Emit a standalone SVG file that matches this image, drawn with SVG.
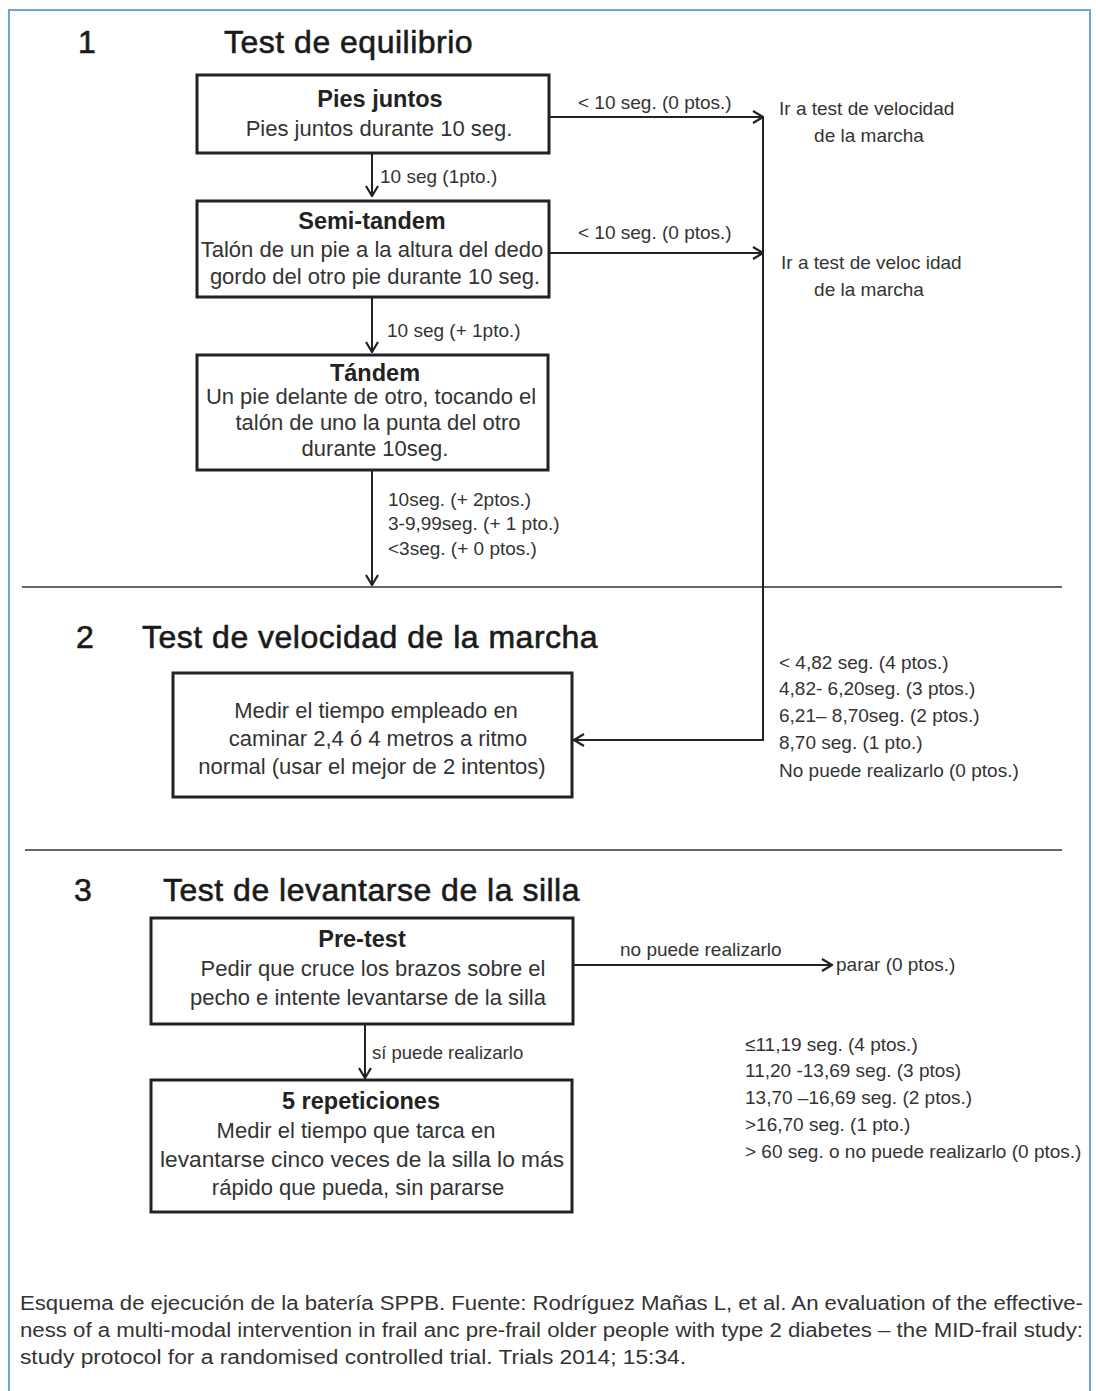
<svg xmlns="http://www.w3.org/2000/svg" width="1096" height="1391" viewBox="0 0 1096 1391">
<defs>
<style>
text{font-family:"Liberation Sans",Arial,sans-serif;fill:#333}
.sec{font-size:32px;fill:#1a1a1a;stroke:#1a1a1a;stroke-width:0.6;letter-spacing:0.5px}
.ttl{font-size:23.5px;font-weight:bold;fill:#222;text-anchor:middle}
.body{font-size:22px;text-anchor:middle}
.lbl{font-size:19px}
.sm{font-size:18.5px}
.cap{font-size:20px}
.box{fill:#fff;stroke:#222;stroke-width:3}
.con{fill:none;stroke:#222;stroke-width:2}
.sep{stroke:#333;stroke-width:1.5}
</style>
<marker id="arr" viewBox="0 0 12 14" refX="11" refY="7" markerWidth="12" markerHeight="14" markerUnits="userSpaceOnUse" orient="auto">
<path d="M1,1 L11,7 L1,13" fill="none" stroke="#222" stroke-width="2.2"/>
</marker>
</defs>
<rect x="0" y="0" width="1096" height="1391" fill="#fff"/>
<path d="M9,1391 L9,10 L1090,10 L1090,1391" fill="none" stroke="#6fa6cf" stroke-width="2"/>

<!-- section separators -->
<line class="sep" x1="22" y1="587" x2="1062" y2="587"/>
<line class="sep" x1="25" y1="850" x2="1062" y2="850"/>

<!-- section titles -->
<g id="sec1"><text class="sec" x="78" y="53">1</text><text class="sec" x="224" y="53">Test de equilibrio</text></g>
<g id="sec2"><text class="sec" x="76" y="648">2</text><text class="sec" x="142" y="648">Test de velocidad de la marcha</text></g>
<g id="sec3"><text class="sec" x="74" y="901">3</text><text class="sec" x="163" y="901">Test de levantarse de la silla</text></g>

<g id="connectors">
<line class="con" x1="372" y1="153" x2="372" y2="196" marker-end="url(#arr)"/>
<line class="con" x1="372" y1="297" x2="372" y2="352" marker-end="url(#arr)"/>
<line class="con" x1="372" y1="470" x2="372" y2="585" marker-end="url(#arr)"/>
<line class="con" x1="549" y1="117" x2="763" y2="117" marker-end="url(#arr)"/>
<line class="con" x1="549" y1="253" x2="763" y2="253" marker-end="url(#arr)"/>
<polyline class="con" points="763,117 763,740 574,740" marker-end="url(#arr)"/>
<line class="con" x1="573" y1="965" x2="832" y2="965" marker-end="url(#arr)"/>
<line class="con" x1="365" y1="1024" x2="365" y2="1078" marker-end="url(#arr)"/>
<text class="lbl" x="380" y="183">10 seg (1pto.)</text>
<text class="lbl" x="387" y="337">10 seg (+ 1pto.)</text>
<text class="lbl" x="388" y="506">10seg. (+ 2ptos.)</text>
<text class="lbl" x="388" y="530">3-9,99seg. (+ 1 pto.)</text>
<text class="lbl" x="388" y="555">&lt;3seg. (+ 0 ptos.)</text>
<text class="lbl" x="578" y="109">&lt; 10 seg. (0 ptos.)</text>
<text class="lbl" x="578" y="239">&lt; 10 seg. (0 ptos.)</text>
<text class="lbl" x="620" y="956">no puede realizarlo</text>
<text class="sm" x="372" y="1059">sí puede realizarlo</text>
</g>

<g id="goto1"><text class="lbl" x="779" y="115">Ir a test de velocidad</text><text class="lbl" x="869" y="142" text-anchor="middle">de la marcha</text></g>
<g id="goto2"><text class="lbl" x="781" y="269">Ir a test de veloc idad</text><text class="lbl" x="869" y="296" text-anchor="middle">de la marcha</text></g>

<g id="box-pies">
<rect class="box" x="197" y="75" width="352" height="78"/>
<text class="ttl" x="380" y="107">Pies juntos</text>
<text class="body" x="379" y="136">Pies juntos durante 10 seg.</text>
</g>
<g id="box-semi">
<rect class="box" x="197" y="201" width="352" height="96"/>
<text class="ttl" x="372" y="229">Semi-tandem</text>
<text class="body" x="372" y="257">Talón de un pie a la altura del dedo</text>
<text class="body" x="375" y="284">gordo del otro pie durante 10 seg.</text>
</g>
<g id="box-tandem">
<rect class="box" x="197" y="355" width="351" height="115"/>
<text class="ttl" x="375" y="381">Tándem</text>
<text class="body" x="371" y="404">Un pie delante de otro, tocando el</text>
<text class="body" x="378" y="430">talón de uno la punta del otro</text>
<text class="body" x="375" y="456">durante 10seg.</text>
</g>
<g id="box-marcha">
<rect class="box" x="173" y="673" width="399" height="124"/>
<text class="body" x="376" y="718">Medir el tiempo empleado en</text>
<text class="body" x="378" y="746">caminar 2,4 ó 4 metros a ritmo</text>
<text class="body" x="372" y="774">normal (usar el mejor de 2 intentos)</text>
</g>
<g id="score-marcha">
<text class="lbl" x="779" y="669">&lt; 4,82 seg. (4 ptos.)</text>
<text class="lbl" x="779" y="695">4,82- 6,20seg. (3 ptos.)</text>
<text class="lbl" x="779" y="722">6,21– 8,70seg. (2 ptos.)</text>
<text class="lbl" x="779" y="749">8,70 seg. (1 pto.)</text>
<text class="lbl" x="779" y="777">No puede realizarlo (0 ptos.)</text>
</g>
<g id="box-pretest">
<rect class="box" x="151" y="918" width="422" height="106"/>
<text class="ttl" x="362" y="947">Pre-test</text>
<text class="body" x="373" y="976">Pedir que cruce los brazos sobre el</text>
<text class="body" x="368" y="1005">pecho e intente levantarse de la silla</text>
</g>
<g id="parar"><text class="lbl" x="836" y="971">parar (0 ptos.)</text></g>
<g id="box-rep">
<rect class="box" x="151" y="1080" width="421" height="132"/>
<text class="ttl" x="361" y="1109">5 repeticiones</text>
<text class="body" x="356" y="1138">Medir el tiempo que tarca en</text>
<text class="body" x="362" y="1167" textLength="404" lengthAdjust="spacingAndGlyphs">levantarse cinco veces de la silla lo más</text>
<text class="body" x="358" y="1195">rápido que pueda, sin pararse</text>
</g>
<g id="score-silla">
<text class="lbl" x="745" y="1051">≤11,19 seg. (4 ptos.)</text>
<text class="lbl" x="745" y="1077">11,20 -13,69 seg. (3 ptos)</text>
<text class="lbl" x="745" y="1104">13,70 –16,69 seg. (2 ptos.)</text>
<text class="lbl" x="745" y="1131">&gt;16,70 seg. (1 pto.)</text>
<text class="lbl" x="745" y="1158">&gt; 60 seg. o no puede realizarlo (0 ptos.)</text>
</g>
<g id="caption">
<text class="cap" x="20" y="1310" textLength="1063" lengthAdjust="spacingAndGlyphs">Esquema de ejecución de la batería SPPB. Fuente: Rodríguez Mañas L, et al. An evaluation of the effective-</text>
<text class="cap" x="20" y="1337" textLength="1063" lengthAdjust="spacingAndGlyphs">ness of a multi-modal intervention in frail anc pre-frail older people with type 2 diabetes – the MID-frail study:</text>
<text class="cap" x="20" y="1364" textLength="666" lengthAdjust="spacingAndGlyphs">study protocol for a randomised controlled trial. Trials 2014; 15:34.</text>
</g>
</svg>
